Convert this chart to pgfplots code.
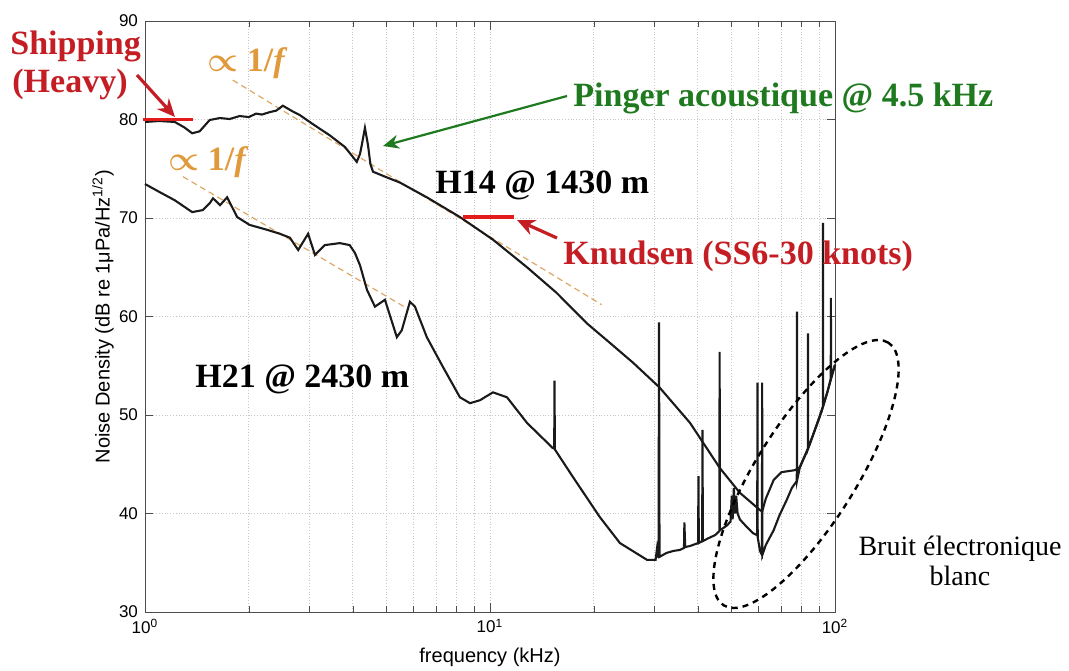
\documentclass[border=0pt]{standalone}
\usepackage{fontspec}
\setmainfont{Liberation Sans}
\newfontfamily\tnr{Liberation Serif}
\usepackage{pgfplots}
\pgfplotsset{compat=1.18}
\usetikzlibrary{arrows.meta}

\definecolor{annred}{HTML}{C41E24}
\definecolor{barred}{HTML}{E31B1B}
\definecolor{pgreen}{HTML}{1F7A1F}
\definecolor{fcol}{HTML}{E09A3C}
\definecolor{fline}{HTML}{DDA867}
\definecolor{curve}{HTML}{1A1A1A}

\begin{document}
\begin{tikzpicture}
\useasboundingbox (-72.5pt,-29pt) rectangle (462pt,306pt);
\begin{axis}[
    at={(0,0)}, anchor=south west,
    scale only axis, width=345pt, height=295.5pt,
    xmode=log, xmin=1, xmax=100,
    ymin=30, ymax=90, ytick={30,40,...,90},
    xmajorgrids, xminorgrids, ymajorgrids,
    grid style={densely dotted, gray!45, line width=0.4pt},
    axis line style={gray!60!black, line width=0.5pt},
    tick style={gray!60!black},
    tick label style={font=\fontsize{8.5}{10}\selectfont},
    /pgf/number format/assume math mode=true,
    log number format basis/.code 2 args={#1\textsuperscript{\pgfmathprintnumber{#2}}},
    xlabel={frequency (kHz)},
    ylabel={Noise Density (dB re 1μPa/Hz\textsuperscript{1/2})},
    label style={font=\fontsize{10}{12}\selectfont},
    xlabel style={at={(axis description cs:0.5,-0.076)}, anchor=center},
    ylabel style={at={(axis description cs:-0.061,0.5)}, anchor=center},
    clip=false,
]
% 1/f guide lines
\addplot[fline, densely dashed, line width=0.6pt] coordinates {(1.796,84.0) (21.07,61.2)};
\addplot[fline, densely dashed, line width=0.6pt] coordinates {(1.288,74.2) (5.83,60.7)};

% H14 @ 1430 m
\addplot[curve, line width=1.05pt] coordinates {
(1,79.75)(1.1,79.85)(1.22,79.75)(1.3,79.2)(1.37,78.6)(1.44,78.8)(1.54,79.95)(1.65,80.15)
(1.76,80.05)(1.88,80.35)(2.0,80.25)(2.1,80.6)(2.18,80.5)(2.3,80.75)(2.4,80.9)(2.51,81.4)
(2.67,80.85)(2.81,80.45)(3.06,79.55)(3.43,78.4)(3.8,77.2)(4.11,75.7)(4.2,76.5)(4.26,77.6)
(4.34,79.15)(4.43,77.4)(4.5,75.5)(4.58,74.7)(4.96,74.2)(5.48,73.6)(6.56,72.1)(8.18,70.1)
(10.2,67.8)(12.8,65.0)(15.6,62.4)(19.1,59.3)(22.3,57.3)(26.0,55.3)(31.0,52.8)(38.0,49.2)
(46.4,44.6)(53,42.1)(60.6,40.35)(61.5,40.2)(63,41.5)(66.4,43.4)(70,44.2)(76.5,44.4)
(79.1,44.7)(84.4,47.0)(90.3,49.8)(95,52.3)(100,55.1)
};

% H21 @ 2430 m
\addplot[curve, line width=1.05pt] coordinates {
(1,73.45)(1.1,72.65)(1.22,71.8)(1.37,70.6)(1.47,70.8)(1.54,71.5)(1.575,72.0)(1.65,71.3)
(1.73,72.1)(1.85,70.1)(2.01,69.3)(2.26,68.8)(2.46,68.4)(2.63,68.0)(2.78,66.75)(2.97,68.4)
(3.11,66.25)(3.32,67.25)(3.67,67.45)(3.92,67.25)(4.06,66.45)(4.2,65.2)(4.4,62.7)(4.64,61.0)
(4.96,61.7)(5.37,57.9)(5.55,58.6)(5.86,61.5)(6.06,61.0)(6.56,57.9)(7.3,54.9)(8.18,51.8)
(8.75,51.2)(9.35,51.5)(10.2,52.3)(11.2,51.8)(12.8,49.2)(15.2,46.65)(15.35,46.6)(15.38,53.5)
(15.42,46.5)(17.4,43.7)(20.8,39.65)(23.8,37.0)(28.5,35.3)(30.2,35.3)(30.5,36.5)(30.8,35.5)
(30.9,59.4)(31.0,35.6)(32.5,36.0)(34,36.2)(35.5,36.3)(36.5,36.5)(36.6,39.1)(36.8,36.6)
(38,36.7)(40.1,37.0)(40.2,43.8)(40.3,37.0)(41.2,37.2)(41.3,48.5)(41.4,37.2)(43,37.5)
(44.9,37.8)(46.2,38.2)(46.3,56.4)(46.4,38.3)(48.7,38.8)(49.8,39.2)(50.2,41.8)(50.5,39.4)
(50.9,42.6)(51.3,40.0)(51.7,41.8)(52.2,40.0)(53,39.4)(55.6,38.6)(57.9,38.0)(59.5,37.8)
(59.6,53.3)(59.7,37.6)(60.6,36.2)(61.4,35.8)(61.5,53.3)(61.6,35.8)(63,36.8)(66.4,38.3)
(69,39.8)(72.5,41.4)(75,42.6)(77.5,43.3)(77.6,60.5)(77.7,43.4)(79.1,44.7)(83.4,46.5)
(83.5,58.3)(83.6,46.6)(87,48.3)(92.2,50.8)(92.3,69.5)(92.4,50.9)(95,52.3)(97.2,53.7)
(97.3,61.9)(97.4,53.8)(100,55.1)
};

% reference levels
\draw[barred, line width=1.6pt] (axis cs:0.987,80) -- (axis cs:1.38,80);
\draw[barred, line width=1.6pt] (axis cs:8.35,70.1) -- (axis cs:11.7,70.1);
\end{axis}

% annotations
\node[anchor=base west, inner sep=0pt, text=annred, font=\tnr\bfseries\fontsize{17}{20}\selectfont] at (-67.5pt,278.5pt) {Shipping};
\node[anchor=base west, inner sep=0pt, text=annred, font=\tnr\bfseries\fontsize{17}{20}\selectfont] at (-66.5pt,259.5pt) {(Heavy)};
\draw[annred, line width=1.6pt, -{Stealth[length=9pt,width=8pt]}] (-4pt,268.5pt) -- (15pt,247.5pt);

\node[anchor=base west, inner sep=0pt, text=fcol, font=\tnr\bfseries\fontsize{17}{20}\selectfont] at (31pt,270pt) {{\boldmath$\propto$} 1/\textit{f}};
\node[anchor=base west, inner sep=0pt, text=fcol, font=\tnr\bfseries\fontsize{17}{20}\selectfont] at (11.5pt,221pt) {{\boldmath$\propto$} 1/\textit{f}};

\node[anchor=base west, inner sep=0pt, text=pgreen, font=\tnr\bfseries\fontsize{17}{20}\selectfont] at (214pt,252.5pt) {Pinger acoustique @ 4.5 kHz};
\draw[pgreen, line width=1.1pt, -{Stealth[length=8pt,width=7pt]}] (211pt,258pt) -- (119pt,233pt);

\node[anchor=base west, inner sep=0pt, font=\tnr\bfseries\fontsize{17}{20}\selectfont] at (145pt,209.5pt) {H14 @ 1430 m};
\node[anchor=base west, inner sep=0pt, text=annred, font=\tnr\bfseries\fontsize{17}{20}\selectfont] at (209pt,174pt) {Knudsen (SS6-30 knots)};
\draw[annred, line width=1.6pt, -{Stealth[length=9pt,width=8pt]}] (206pt,187pt) -- (186pt,196pt);

\node[anchor=base west, inner sep=0pt, font=\tnr\bfseries\fontsize{17}{20}\selectfont] at (25pt,112.5pt) {H21 @ 2430 m};

\draw[black, line width=1.2pt, dash pattern=on 3pt off 2.5pt, rotate around={57.9:(330.5pt,69pt)}] (330.5pt,69pt) ellipse (77.5pt and 25pt);
\node[anchor=base, inner sep=0pt, font=\tnr\fontsize{14}{16}\selectfont] at (407.5pt,28.5pt) {Bruit électronique};
\node[anchor=base, inner sep=0pt, font=\tnr\fontsize{14}{16}\selectfont] at (407.5pt,13.5pt) {blanc};
\end{tikzpicture}
\end{document}
